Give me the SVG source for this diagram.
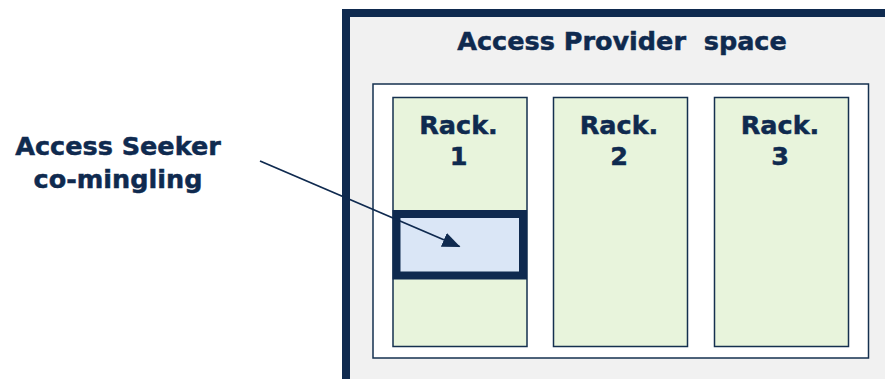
<svg xmlns="http://www.w3.org/2000/svg" width="885" height="379" viewBox="0 0 885 379">
  <style>
    .lbl { font-family: "DejaVu Sans", Verdana, sans-serif; font-weight: bold; font-size: 25.5px; fill: #0f2a4f; stroke: #0f2a4f; stroke-width: 0.5; text-anchor: middle; }
    .rack { fill: #e8f4dc; stroke: #15304f; stroke-width: 1.5; }
  </style>
  <defs>
    <marker id="arrow" markerWidth="18" markerHeight="15" refX="17" refY="7.5" orient="auto" markerUnits="userSpaceOnUse" viewBox="0 0 18 15">
      <path d="M0,0 L18,7.5 L0,15 Z" fill="#0f2a4f"/>
    </marker>
  </defs>
  <rect width="885" height="379" fill="#ffffff"/>

  <!-- provider space -->
  <g id="provider-space">
    <rect x="346" y="13" width="560" height="400" fill="#f1f1f1" stroke="#0f2a4f" stroke-width="8"/>
    <text class="lbl" x="622" y="49.5" xml:space="preserve">Access Provider  space</text>
    <rect x="373" y="84" width="495.5" height="274" fill="#ffffff" stroke="#15304f" stroke-width="1.5"/>
  </g>

  <g id="rack1">
    <rect class="rack" x="393" y="97.5" width="134" height="249"/>
    <text class="lbl" x="458.5" y="133.5">Rack.</text>
    <text class="lbl" x="458.5" y="165">1</text>
  </g>
  <g id="rack2">
    <rect class="rack" x="553.5" y="97.5" width="134" height="249"/>
    <text class="lbl" x="619" y="133.5">Rack.</text>
    <text class="lbl" x="619" y="165">2</text>
  </g>
  <g id="rack3">
    <rect class="rack" x="714.5" y="97.5" width="134" height="249"/>
    <text class="lbl" x="780" y="133.5">Rack.</text>
    <text class="lbl" x="780" y="165">3</text>
  </g>

  <g id="seeker-slot">
    <rect x="396.5" y="214" width="126.5" height="61.5" fill="#dae6f6" stroke="#0f2a4f" stroke-width="8"/>
  </g>

  <g id="seeker-label">
    <text class="lbl" x="118" y="155">Access Seeker</text>
    <text class="lbl" x="118" y="188">co-mingling</text>
  </g>

  <g id="connectors">
    <line x1="260" y1="161" x2="459.5" y2="246.5" stroke="#0f2a4f" stroke-width="1.8" marker-end="url(#arrow)"/>
  </g>
</svg>
